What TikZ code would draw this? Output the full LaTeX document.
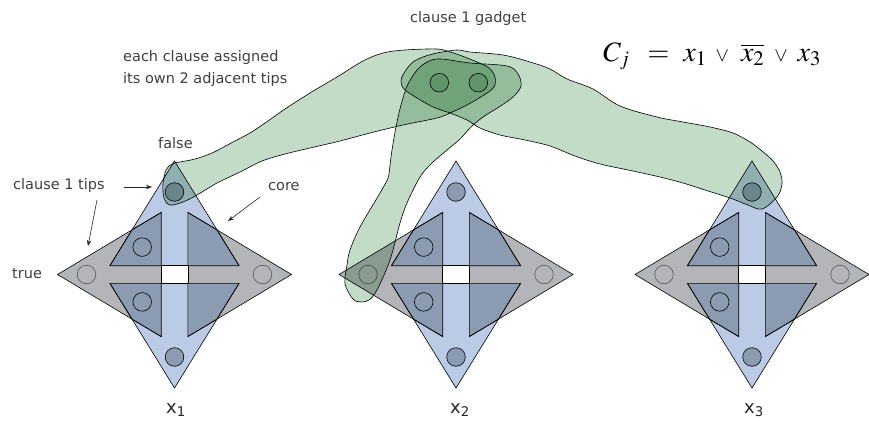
\documentclass[tikz,border=0pt]{standalone}
\usepackage{mathptmx}
\usepackage[no-math]{fontspec}
\setmainfont{DejaVu Sans}
\usetikzlibrary{arrows.meta}
\definecolor{vblue}{RGB}{188,203,229}
\definecolor{vgrey}{RGB}{180,181,184}
\definecolor{vdark}{RGB}{139,155,178}
\definecolor{tipgrey}{RGB}{85,85,85}
\definecolor{gfill}{RGB}{195,220,200}
\definecolor{gdot}{RGB}{96,148,106}
\definecolor{txt}{RGB}{64,64,64}
\newcommand{\smallvee}{\mbox{\fontsize{20}{20}\selectfont$\vee$}}
\tikzset{
  lbl/.style={inner sep=0pt, anchor=base west, text=txt, font=\fontsize{14.5}{17}\selectfont},
  varlbl/.style={inner sep=0pt, anchor=base, text=black!85, font=\fontsize{18}{20}\selectfont},
  arr/.style={-{Stealth[length=6pt,width=4.5pt]}, line width=0.6pt, black!85},
  edge/.style={line width=0.6pt, draw=black},
  arm/.style={fill=gfill, draw=black, line width=0.6pt, smooth cycle, tension=0.55},
}
\begin{document}
\begin{tikzpicture}[x=1pt,y=-1pt]
\useasboundingbox (0,0) rectangle (869,420);
\fill[white] (0,0) rectangle (869,420);

% variable gadgets
\foreach \cx/\nm in {174.5/g1,456/g2,752/g3}{
\begin{scope}[shift={(\cx,274.5)}]
  \fill[vblue] (0,-113.5) -- (70,0) -- (0,113.5) -- (-70,0) -- cycle;
  \fill[vgrey] (-117,0) -- (0,-70) -- (117,0) -- (0,70) -- cycle;
  \fill[vblue] (-13.3,-91.9) -- (0,-113.5) -- (13.3,-91.9) -- (13.3,91.9) -- (0,113.5) -- (-13.3,91.9) -- cycle;
  \foreach \sx/\sy in {1/1,1/-1,-1/1,-1/-1}{
    \filldraw[fill=vdark, edge] ({-13.3*\sx},{-8.8*\sy}) -- ({-64.6*\sx},{-8.8*\sy}) -- ({-42.4*\sx},{-44.74*\sy}) -- ({-13.3*\sx},{-62.1*\sy}) -- cycle;
    \draw[edge] ({32.3*\sx},{27.4*\sy}) circle[radius=9.3];
  }
  \filldraw[fill=white, edge] (-13.3,-8.8) rectangle (13.3,8.8);
  \draw[edge] (-64.6,-8.8) -- (0,-113.5) -- (64.6,-8.8);
  \draw[edge] (-64.6,8.8) -- (0,113.5) -- (64.6,8.8);
  \draw[edge] (-13.3,-62.1) -- (-117,0) -- (-13.3,62.1);
  \draw[edge] (13.3,-62.1) -- (117,0) -- (13.3,62.1);
  \draw[line width=0.6pt, tipgrey] (-88,0) circle[radius=9.3];
  \draw[line width=0.6pt, tipgrey] (88,0) circle[radius=9.3];
  \filldraw[fill=vdark, edge] (0,-82.5) circle[radius=9.3];
  \filldraw[fill=vdark, edge] (0,82.5) circle[radius=9.3];
\end{scope}
}

% clause gadget arms
\begin{scope}[blend mode=multiply]
\draw[arm] plot coordinates {(166,170) (172,164) (180,162) (195,159) (212,153) (233,142) (250,133) (268,121) (285,109) (310,93) (337,77) (363,61) (383,53) (405,50) (437,49) (450,52) (462,56) (477,62) (489,68) (495,77) (494,87) (484,95) (467,105) (450,113) (437,118) (403,125) (370,133) (340,141) (310,148) (285,154) (262,161) (240,172) (217,183) (197,195) (183,202) (170,205) (164,198) (163,184)};
\draw[arm] plot coordinates {(353,299) (345,284) (347,265) (350,250) (360,227) (380,193) (388,178) (390,165) (392,150) (396,127) (401,105) (408,84) (420,67) (437,59) (470,63) (507,66) (518,74) (521,86) (513,97) (499,107) (483,117) (471,127) (460,139) (447,150) (432,163) (420,177) (407,203) (400,223) (390,260) (377,290) (369,300) (361,302)};
\draw[arm] plot coordinates {(401,80) (406,70) (413,62) (423,57) (437,53) (457,50) (470,52) (503,55) (530,62) (550,69) (567,79) (593,89) (620,106) (657,117) (683,122) (710,127) (733,133) (750,142) (762,151) (773,161) (780,172) (782,184) (777,197) (762,209) (748,205) (730,198) (705,190) (683,183) (660,177) (633,171) (600,164) (575,156) (550,146) (525,140) (500,135) (480,128) (467,120) (450,113) (433,107) (417,98) (404,89)};
\end{scope}
\filldraw[fill=gdot, edge] (439.3,82.7) circle[radius=9.3];
\filldraw[fill=gdot, edge] (478.3,82.7) circle[radius=9.3];

% labels
\node[lbl] (gadget) at (410,23) {clause 1 gadget};
\node[lbl] (each1) at (123,62) {each clause assigned};
\node[lbl] (each2) at (123,83) {its own 2 adjacent tips};
\node[lbl] (false) at (158,148) {false};
\node[lbl] (tips) at (13,189) {clause 1 tips};
\node[lbl] (true) at (12,278) {true};
\node[lbl] (core) at (268,190) {core};
\node[varlbl] (x1) at (176,413.3) {x\textsubscript{1}};
\node[varlbl] (x2) at (460,413.3) {x\textsubscript{2}};
\node[varlbl] (x3) at (754,413.3) {x\textsubscript{3}};
\node[inner sep=0pt, anchor=base west, font=\fontsize{28}{30}\selectfont] (clause) at (603,61.7)
  {${C_j}\hspace{18pt}{=}\hspace{14pt}{x_1}\hspace{9pt}\smallvee\hspace{12pt}{\overline{x_2}}\hspace{10pt}\smallvee\hspace{10pt}{x_3}$};

% arrows
\coordinate (a1s) at (124,187);
\coordinate (a1e) at (152,187);
\coordinate (a2s) at (97,200);
\coordinate (a2e) at (88,246);
\coordinate (a3s) at (260,197);
\coordinate (a3e) at (228,221);
\draw[arr] (a1s) -- (a1e);
\draw[arr] (a2s) -- (a2e);
\draw[arr] (a3s) -- (a3e);
\end{tikzpicture}
\end{document}
